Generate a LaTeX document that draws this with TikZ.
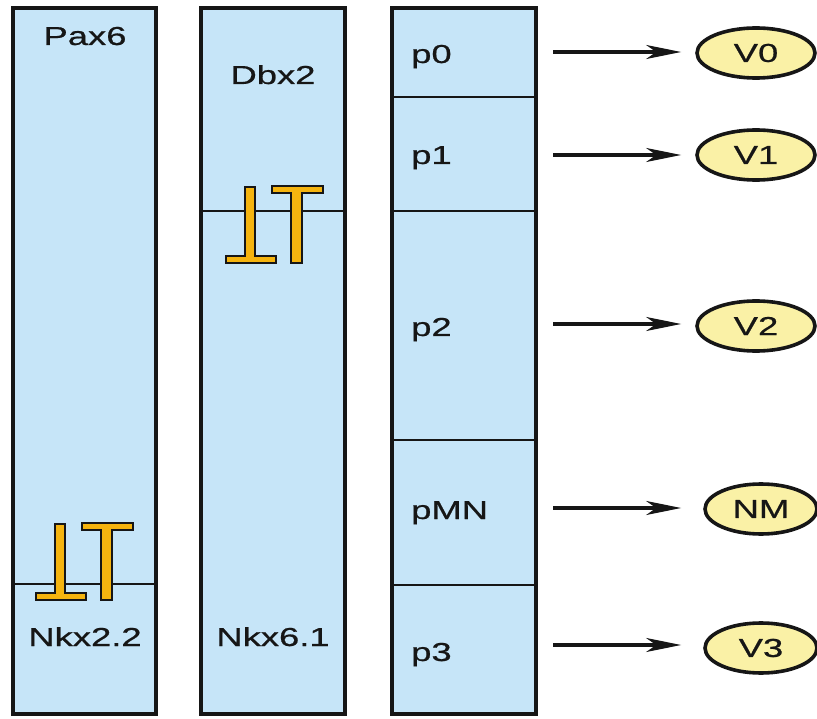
\documentclass[tikz,border=0pt]{standalone}
\usepackage{fontspec}
\setmainfont[FakeStretch=1.4,FakeBold=0.7]{Liberation Sans}
\usetikzlibrary{arrows.meta,shapes.geometric}
\definecolor{cellblue}{HTML}{C6E5F8}
\definecolor{ovalyellow}{HTML}{FAF1A6}
\definecolor{barorange}{HTML}{F5B40F}
\definecolor{ink}{HTML}{161616}
\tikzset{
  column/.style={draw=ink, line width=4.4pt, fill=cellblue},
  divider/.style={draw=ink, line width=2pt},
  lbl/.style={font=\fontsize{26}{26}\selectfont, text=ink, inner sep=0pt, anchor=base},
  plbl/.style={lbl, anchor=base west},
  fate/.style={ellipse, draw=ink, line width=3.6pt, fill=ovalyellow, minimum width=118pt, minimum height=50pt, inner sep=0pt, font=\fontsize{26}{26}\selectfont, text=ink},
  induce/.style={draw=ink, line width=3.2pt, -{Stealth[length=35pt,width=14pt,inset=10pt]}},
  repbar/.style={fill=barorange, draw=ink, line width=1.4pt, line join=miter}
}
\begin{document}
\begin{tikzpicture}[x=1pt,y=-1pt]
\useasboundingbox (0,0) rectangle (817,719);
% columns
\draw[column] (13,8) rectangle (156,714);
\draw[column] (201,8) rectangle (345,714);
\draw[column] (392,8) rectangle (536,714);
% dividers
\draw[divider] (13,584) -- (156,584);
\draw[divider] (201,211) -- (345,211);
\draw[divider] (392,97) -- (536,97);
\draw[divider] (392,211) -- (536,211);
\draw[divider] (392,440) -- (536,440);
\draw[divider] (392,585) -- (536,585);
% repression symbols
\foreach \dx/\dy in {0/0, 190/-337}{
\begin{scope}[shift={(\dx,\dy)}]
  \draw[repbar] (55,524) -- (65,524) -- (65,593) -- (86,593) -- (86,600) -- (36,600) -- (36,593) -- (55,593) -- cycle;
  \draw[repbar] (82,523) -- (133,523) -- (133,530) -- (112,530) -- (112,600) -- (101,600) -- (101,530) -- (82,530) -- cycle;
\end{scope}}
% column labels
\node[lbl] (pax) at (85,45) {Pax6};
\node[lbl] (dbx) at (273,84) {Dbx2};
\node[lbl] (nkx22) at (85,646) {Nkx2.2};
\node[lbl] (nkx61) at (273,646) {Nkx6.1};
\node[plbl] (p0) at (411,63) {p0};
\node[plbl] (p1) at (411,164) {p1};
\node[plbl] (p2) at (411,336) {p2};
\node[plbl] (pmn) at (411,519) {pMN};
\node[plbl] (p3) at (411,661) {p3};
% fates
\node[fate] (v0) at (756,53) {V0};
\node[fate] (v1) at (756,155) {V1};
\node[fate] (v2) at (756,326) {V2};
\node[fate, minimum width=112pt] (nm) at (761,509) {NM};
\node[fate, minimum width=112pt] (v3) at (761,648) {V3};
% arrow starts
\coordinate (a0) at (553,52);
\coordinate (a1) at (553,155);
\coordinate (a2) at (553,324);
\coordinate (a3) at (553,508);
\coordinate (a4) at (553,645);
\draw[induce, shorten >=14pt] (a0) -- (a0 -| v0.west);
\draw[induce, shorten >=14pt] (a1) -- (a1 -| v1.west);
\draw[induce, shorten >=14pt] (a2) -- (a2 -| v2.west);
\draw[induce, shorten >=22pt] (a3) -- (a3 -| nm.west);
\draw[induce, shorten >=22pt] (a4) -- (a4 -| v3.west);
\end{tikzpicture}
\end{document}
